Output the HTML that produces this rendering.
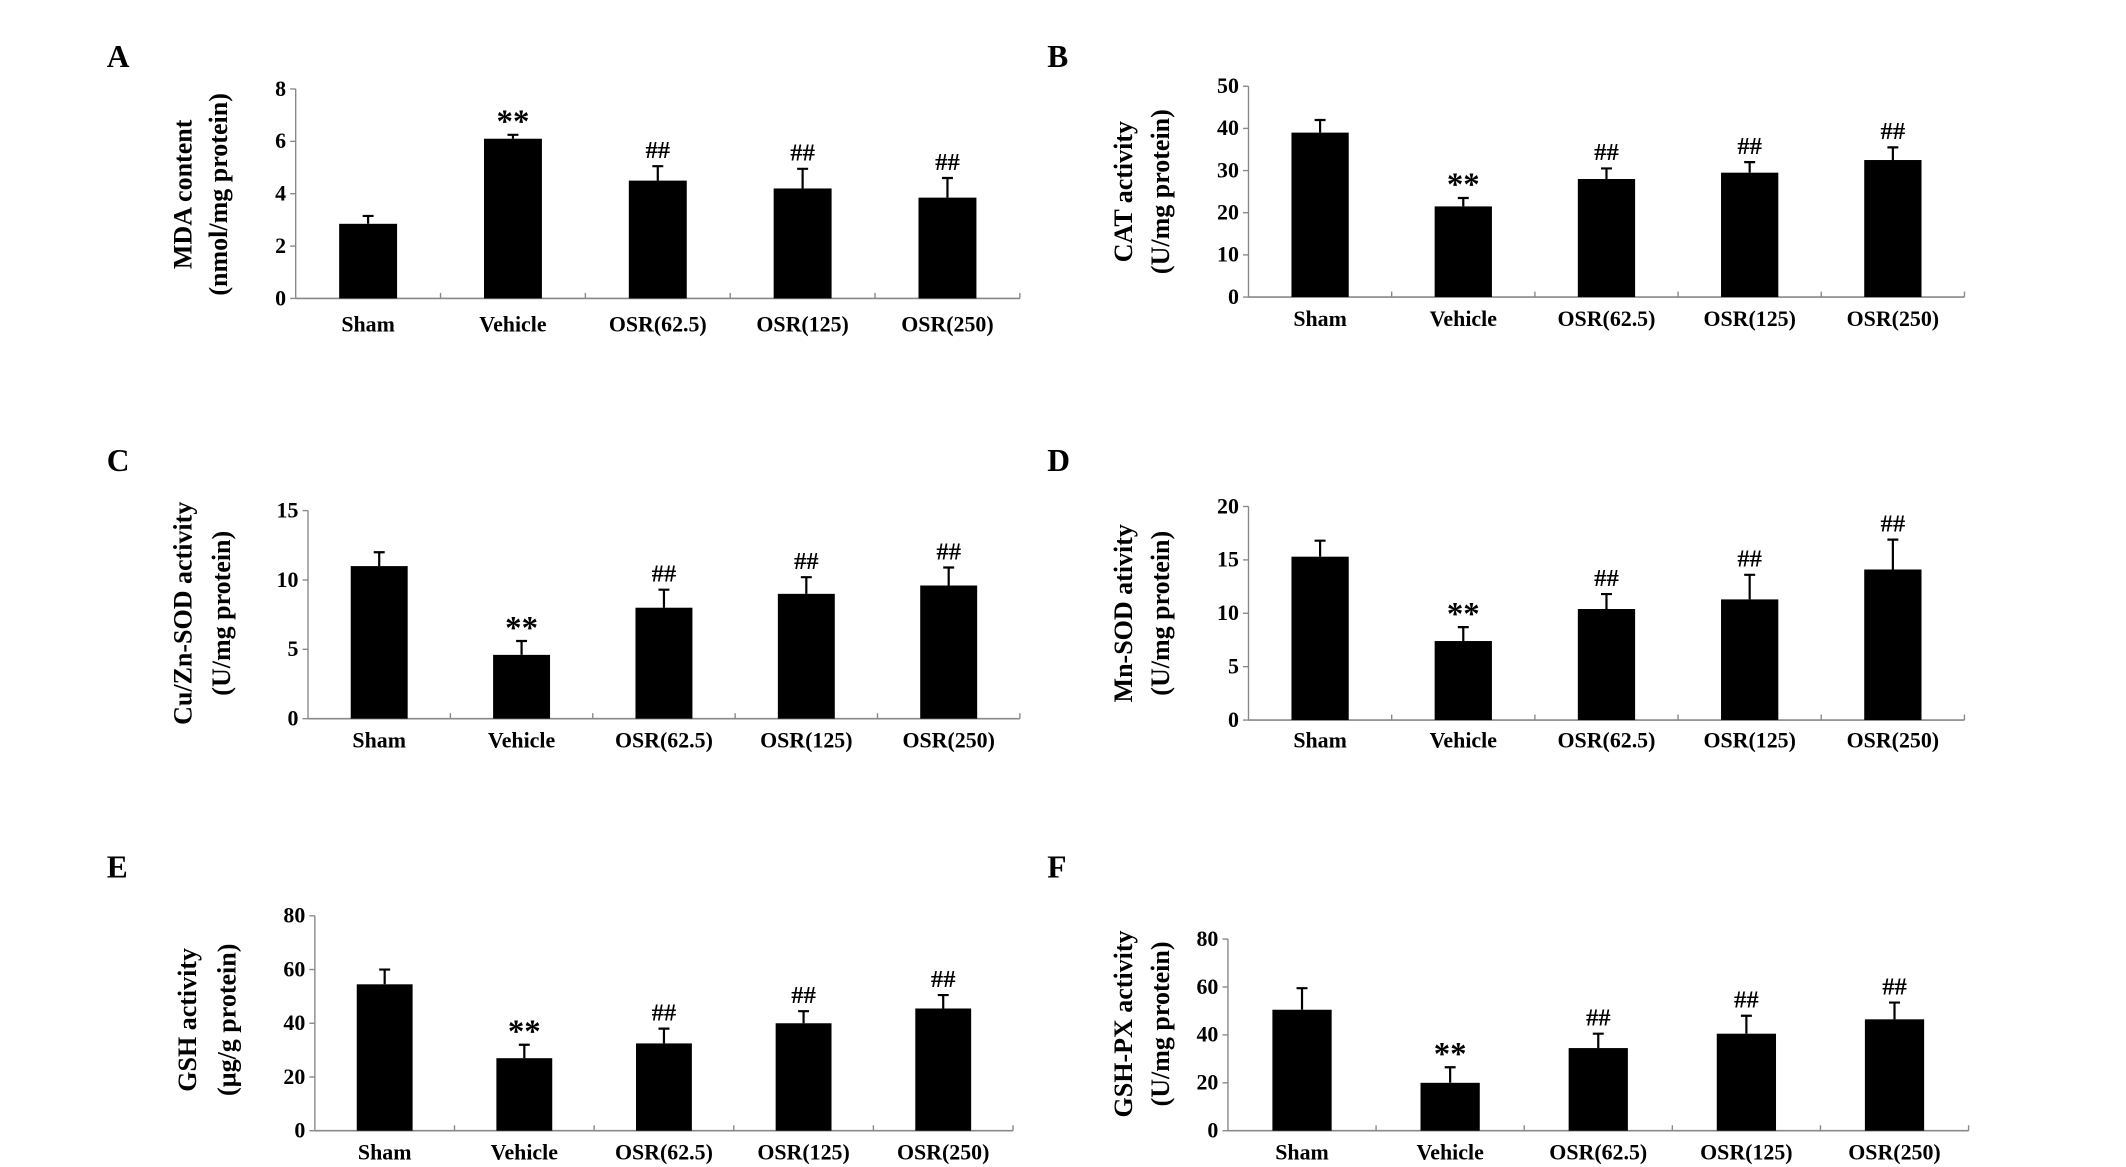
<!DOCTYPE html>
<html><head><meta charset="utf-8"><style>
html,body{margin:0;padding:0;background:#fff;}
svg{display:block;}
text{font-family:"Liberation Serif",serif;font-weight:bold;fill:#000;}
</style></head><body>
<svg id="fig" width="2126" height="1167" viewBox="0 0 1553 852.5" preserveAspectRatio="none" xmlns="http://www.w3.org/2000/svg"></svg>
<script>
const categories = ["Sham","Vehicle","OSR(62.5)","OSR(125)","OSR(250)"];
const mdaValues = [2.85,6.1,4.5,4.2,3.85];
const mdaErrors = [0.3,0.15,0.55,0.75,0.75];
const catValues = [39,21.5,28,29.5,32.5];
const catErrors = [3,2,2.5,2.5,3];
const cuznValues = [11,4.6,8,9,9.6];
const cuznErrors = [1,1,1.3,1.2,1.3];
const mnValues = [15.3,7.4,10.4,11.3,14.1];
const mnErrors = [1.5,1.3,1.4,2.3,2.8];
const gshValues = [54.5,27,32.5,40,45.5];
const gshErrors = [5.5,5,5.5,4.5,5];
const gpxValues = [50.5,20,34.5,40.5,46.5];
const gpxErrors = [9,6.5,6,7.5,7];
const marks = ["","**","##","##","##"];
const mdaTicks = [0,2,4,6,8];
const catTicks = [0,10,20,30,40,50];
const cuznTicks = [0,5,10,15];
const mnTicks = [0,5,10,15,20];
const gshTicks = [0,20,40,60,80];
const gpxTicks = [0,20,40,60,80];

const NS="http://www.w3.org/2000/svg";
const svg=document.getElementById('fig');
function mk(tag,attrs,parent){const e=document.createElementNS(NS,tag);for(const k in attrs)e.setAttribute(k,attrs[k]);(parent||svg).appendChild(e);return e;}

const panels=[
 {id:"a",letter:"A",lx:78,ly:49,x0:216,x1:745,yTop:65,yZero:218,max:8,ticks:mdaTicks,vals:mdaValues,errs:mdaErrors,l1:"MDA content",l2:"(nmol/mg protein)",tx1:140,tx2:166,ty:142,labY:242},
 {id:"b",letter:"B",lx:765,ly:49,x0:912,x1:1435,yTop:63,yZero:217,max:50,ticks:catTicks,vals:catValues,errs:catErrors,l1:"CAT activity",l2:"(U/mg protein)",tx1:827,tx2:854,ty:140,labY:238},
 {id:"c",letter:"C",lx:78,ly:344,x0:225,x1:745,yTop:373,yZero:525,max:15,ticks:cuznTicks,vals:cuznValues,errs:cuznErrors,l1:"Cu/Zn-SOD activity",l2:"(U/mg protein)",tx1:140,tx2:168,ty:448,labY:546},
 {id:"d",letter:"D",lx:765,ly:344,x0:912,x1:1435,yTop:370,yZero:526,max:20,ticks:mnTicks,vals:mnValues,errs:mnErrors,l1:"Mn-SOD ativity",l2:"(U/mg protein)",tx1:827,tx2:854,ty:448,labY:546},
 {id:"e",letter:"E",lx:78,ly:641,x0:230,x1:740,yTop:669,yZero:826,max:80,ticks:gshTicks,vals:gshValues,errs:gshErrors,l1:"GSH activity",l2:"(µg/g protein)",tx1:143,tx2:172,ty:745,labY:847},
 {id:"f",letter:"F",lx:765,ly:641,x0:897,x1:1438,yTop:686,yZero:826,max:80,ticks:gpxTicks,vals:gpxValues,errs:gpxErrors,l1:"GSH-PX activity",l2:"(U/mg protein)",tx1:827,tx2:854,ty:748,labY:847}
];

panels.forEach(p=>{
  const g=mk('g',{});
  
  
  const y=v=>p.yZero-(v/p.max)*(p.yZero-p.yTop);
  const band=(p.x1-p.x0)/categories.length;
  const xc=i=>p.x0+band*(i+0.5);
  const L=mk('text',{x:p.lx,y:p.ly,'font-size':23},g);L.textContent=p.letter;
  
  
  const t=mk('text',{transform:`translate(${p.tx1},${p.ty}) rotate(-90)`,'text-anchor':'middle','font-size':19},g);t.textContent=p.l1;
  
  
  const t2=mk('text',{transform:`translate(${p.tx2},${p.ty}) rotate(-90)`,'text-anchor':'middle','font-size':19},g);t2.textContent=p.l2;
  
  
  const ya=mk('line',{x1:p.x0,y1:p.yTop,x2:p.x0,y2:p.yZero,stroke:'#888','stroke-width':1},g);
  
  
  const xa=mk('line',{x1:p.x0,y1:p.yZero,x2:p.x1,y2:p.yZero,stroke:'#888','stroke-width':1.2},g);
  
  
  p.ticks.forEach(tv=>{
    mk('line',{x1:p.x0-4,y1:y(tv),x2:p.x0,y2:y(tv),stroke:'#888'},g);
    const tl=mk('text',{x:p.x0-7,y:y(tv)+5,'text-anchor':'end','font-size':16},g);tl.textContent=tv;
    
    
  });
  for(let i=1;i<=categories.length;i++){
    mk('line',{x1:p.x0+band*i,y1:p.yZero-4,x2:p.x0+band*i,y2:p.yZero,stroke:'#888'},g);
  }
  const bw=band*0.4;
  categories.forEach((c,i)=>{
    const v=p.vals[i],e=p.errs[i],cx=xc(i);
    const bar=mk('rect',{x:cx-bw/2,y:y(v),width:bw,height:p.yZero-y(v),fill:'#000'},g);
    
    
    const eb=mk('path',{d:`M${cx},${y(v)}V${y(v+e)}M${cx-4},${y(v+e)}H${cx+4}`,stroke:'#000','stroke-width':1.6,fill:'none'},g);
    
    
    if(marks[i]){
      const isStar=marks[i]==="**";
      const m=mk('text',{x:cx,y:y(v+e)-(isStar?2:6),'text-anchor':'middle','font-size':isStar?24:18},g);m.textContent=marks[i];
      
      
    }
    const cl=mk('text',{x:cx,y:p.labY,'text-anchor':'middle','font-size':16},g);cl.textContent=c;
    
    
  });
});
</script>
</body></html>
